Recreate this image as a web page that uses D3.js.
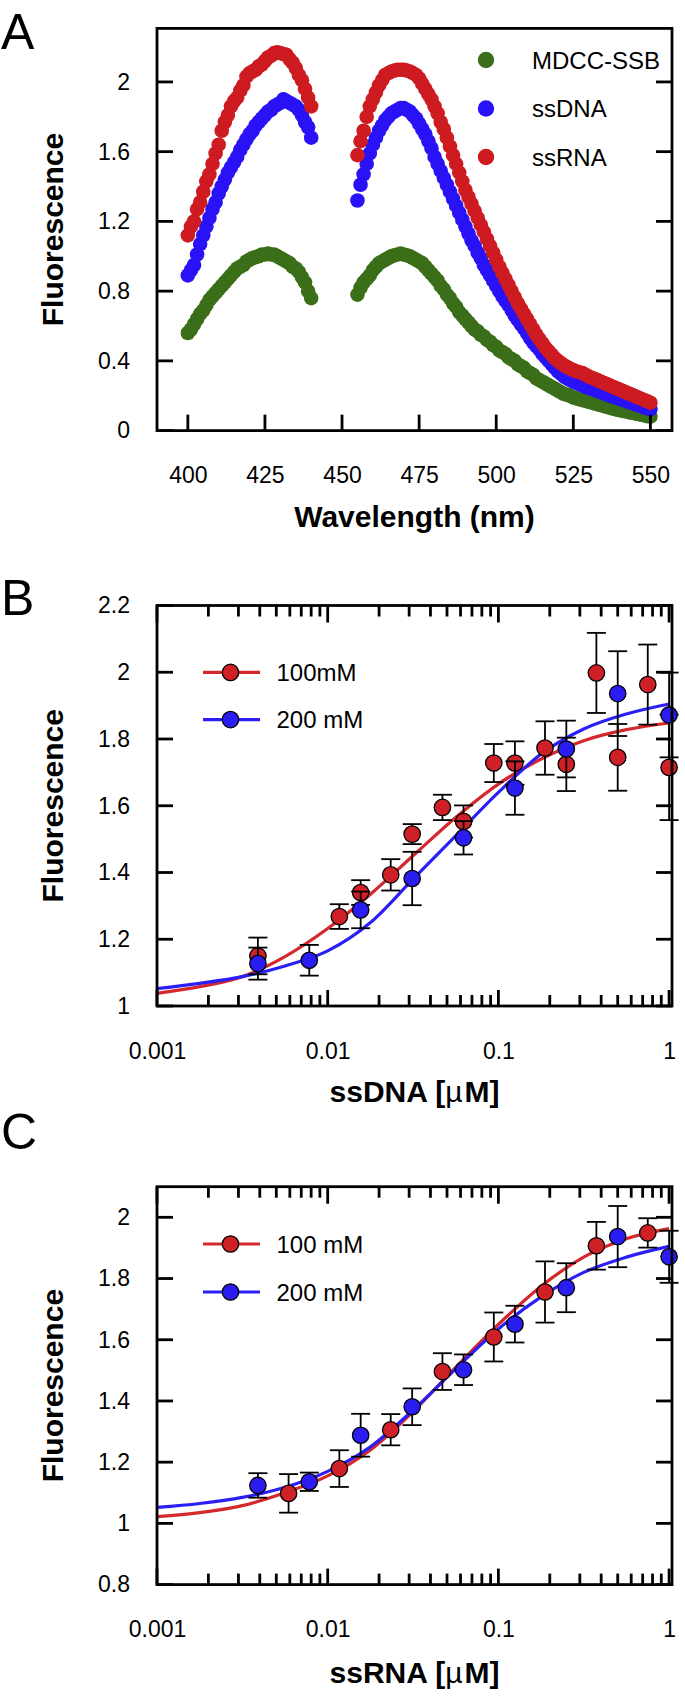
<!DOCTYPE html>
<html><head><meta charset="utf-8">
<script src="https://cdn.jsdelivr.net/npm/d3@7"></script>
<style>
body{margin:0;background:#fff}
svg{display:block}
text{font-family:"Liberation Sans",Arial,sans-serif;fill:#000}
</style>
</head><body>
<svg id="c" width="685" height="1697"></svg>
<script>
// ---------- Panel A data (emission spectra) ----------
const wavelengths = [
400,401,402,403,404,405,406,407,408,409,
410,411,412,413,414,415,416,417,418,419,
420,421,422,423,424,425,426,427,428,429,
430,431,432,433,434,435,436,437,438,439,
440,
455,456,457,458,459,
460,461,462,463,464,465,466,467,468,469,
470,471,472,473,474,475,476,477,478,479,
480,481,482,483,484,485,486,487,488,489,
490,491,492,493,494,495,496,497,498,499,
500,501,502,503,504,505,506,507,508,509,
510,511,512,513,514,515,516,517,518,519,
520,521,522,523,524,525,526,527,528,529,
530,531,532,533,534,535,536,537,538,539,
540,541,542,543,544,545,546,547,548,549,
550];
const mdccSSB = [
0.56,0.58,0.61,0.64,0.67,0.69,0.72,0.75,0.77,0.79,
0.81,0.83,0.85,0.87,0.89,0.91,0.93,0.94,0.95,0.97,
0.98,0.99,0.995,1.00,1.01,1.01,1.015,1.01,1.01,1.00,
0.99,0.98,0.97,0.96,0.94,0.93,0.91,0.88,0.85,0.80,
0.76,
0.78,0.82,0.85,0.87,0.89,
0.92,0.94,0.96,0.97,0.98,0.99,1.00,1.005,1.01,1.015,
1.01,1.005,1.00,0.99,0.98,0.97,0.96,0.94,0.92,0.90,
0.88,0.86,0.83,0.81,0.78,0.76,0.73,0.71,0.68,0.66,
0.64,0.62,0.60,0.58,0.57,0.55,0.54,0.52,0.51,0.49,
0.48,0.46,0.45,0.44,0.42,0.41,0.40,0.38,0.37,0.36,
0.34,0.33,0.32,0.30,0.29,0.28,0.27,0.26,0.25,0.24,
0.23,0.22,0.21,0.205,0.20,0.19,0.185,0.18,0.175,0.17,
0.165,0.16,0.155,0.15,0.145,0.14,0.135,0.13,0.125,0.12,
0.117,0.113,0.11,0.106,0.102,0.099,0.095,0.091,0.087,0.083,
0.08];
const ssDNA = [
0.89,0.92,0.95,1.01,1.07,1.12,1.17,1.22,1.27,1.31,
1.36,1.40,1.44,1.48,1.51,1.54,1.57,1.61,1.64,1.67,
1.70,1.72,1.75,1.77,1.79,1.81,1.83,1.84,1.86,1.87,
1.88,1.90,1.89,1.88,1.87,1.86,1.84,1.81,1.77,1.74,
1.68,
1.32,1.41,1.47,1.53,1.59,
1.64,1.68,1.72,1.75,1.78,1.80,1.82,1.83,1.84,1.85,
1.85,1.84,1.83,1.81,1.79,1.76,1.73,1.70,1.66,1.62,
1.57,1.53,1.49,1.45,1.41,1.37,1.33,1.29,1.25,1.21,
1.17,1.13,1.09,1.06,1.02,0.99,0.95,0.92,0.89,0.86,
0.83,0.80,0.77,0.745,0.72,0.69,0.66,0.635,0.61,0.585,
0.56,0.53,0.505,0.485,0.465,0.44,0.42,0.40,0.38,0.36,
0.34,0.325,0.31,0.30,0.29,0.28,0.275,0.265,0.26,0.25,
0.245,0.24,0.233,0.227,0.22,0.213,0.207,0.20,0.195,0.188,
0.182,0.176,0.17,0.164,0.158,0.152,0.146,0.14,0.134,0.128,
0.122];
const ssRNA = [
1.12,1.17,1.20,1.27,1.31,1.37,1.43,1.47,1.53,1.59,
1.64,1.72,1.77,1.81,1.86,1.89,1.91,1.95,1.98,2.03,
2.05,2.06,2.07,2.09,2.10,2.12,2.14,2.15,2.165,2.17,
2.165,2.16,2.155,2.13,2.11,2.08,2.04,2.01,1.96,1.91,
1.86,
1.58,1.66,1.72,1.80,1.86,
1.90,1.94,1.98,2.01,2.04,2.05,2.06,2.065,2.07,2.07,
2.07,2.065,2.06,2.05,2.04,2.02,1.99,1.96,1.93,1.90,
1.86,1.82,1.77,1.73,1.68,1.63,1.58,1.53,1.48,1.43,
1.38,1.34,1.30,1.26,1.22,1.18,1.14,1.10,1.06,1.02,
0.98,0.94,0.905,0.87,0.835,0.80,0.765,0.73,0.70,0.67,
0.64,0.61,0.58,0.55,0.525,0.50,0.475,0.455,0.435,0.415,
0.40,0.387,0.375,0.365,0.355,0.347,0.34,0.335,0.33,0.32,
0.31,0.303,0.296,0.288,0.28,0.273,0.265,0.258,0.25,0.243,
0.235,0.228,0.22,0.213,0.205,0.198,0.19,0.183,0.175,0.168,
0.16];
const legendA = ["MDCC-SSB","ssDNA","ssRNA"];
const xTicksA = [400,425,450,475,500,525,550];
const yTicksA = [0,0.4,0.8,1.2,1.6,2];

// ---------- Panel B data (ssDNA titration) ----------
const concB100 = [0.0039,0.0117,0.0156,0.0234,0.03125,0.047,0.0625,0.094,0.125,0.1875,0.25,0.375,0.5,0.75,1];
const fluB100  = [1.15,1.268,1.34,1.393,1.515,1.595,1.553,1.728,1.728,1.773,1.724,1.998,1.745,1.963,1.715];
const errB100  = [0.055,0.037,0.037,0.047,0.03,0.038,0.048,0.057,0.065,0.08,0.08,0.12,0.1,0.12,0.158];
const concB200 = [0.0039,0.0078,0.0156,0.03125,0.0625,0.125,0.25,0.5,1];
const fluB200  = [1.127,1.137,1.288,1.382,1.504,1.653,1.77,1.936,1.872];
const errB200  = [0.048,0.046,0.055,0.08,0.05,0.08,0.085,0.127,0.127];
const fitConc  = [0.001,0.00178,0.00316,0.00562,0.01,0.0178,0.0316,0.0562,0.1,0.178,0.316,0.562,1.0];
const fitB100  = [1.038,1.058,1.088,1.148,1.232,1.335,1.45,1.565,1.665,1.74,1.795,1.828,1.848];
const fitB200  = [1.052,1.068,1.088,1.12,1.165,1.25,1.38,1.51,1.64,1.755,1.83,1.875,1.905];
const yTicksB  = [1,1.2,1.4,1.6,1.8,2,2.2];
const legendB  = ["100mM","200 mM"];

// ---------- Panel C data (ssRNA titration) ----------
const concC100 = [0.0059,0.0117,0.0234,0.047,0.094,0.1875,0.375,0.75];
const fluC100  = [1.098,1.179,1.306,1.496,1.609,1.756,1.907,1.949];
const errC100  = [0.063,0.06,0.051,0.06,0.08,0.1,0.078,0.048];
const concC200 = [0.0039,0.0078,0.0156,0.03125,0.0625,0.125,0.25,0.5,1];
const fluC200  = [1.124,1.136,1.288,1.381,1.502,1.651,1.77,1.937,1.871];
const errC200  = [0.04,0.03,0.07,0.06,0.05,0.06,0.08,0.1,0.085];
const fitC100  = [1.022,1.035,1.058,1.10,1.155,1.24,1.365,1.51,1.65,1.775,1.87,1.93,1.963];
const fitC200  = [1.052,1.065,1.085,1.118,1.17,1.25,1.37,1.505,1.635,1.74,1.82,1.87,1.905];
const yTicksC  = [0.8,1,1.2,1.4,1.6,1.8,2];
const legendC  = ["100 mM","200 mM"];

const xTicksLog = [0.001,0.01,0.1,1];
const xLabelsLog = ["0.001","0.01","0.1","1"];

// ---------- drawing ----------
const svg = d3.select("#c");
const L = 157, R = 672;
const cGreen = "#3b6e18", cBlue = "#2a12f6", cRed = "#cd1b21";
const mRed = "#cf2027", mBlue = "#2b1df2", lRed = "#d4282c", lBlue = "#2b1ff5";
const TW = 2.8; // tick / frame width

function labelAxis(g){
  g.select(".domain").remove();
  g.selectAll(".tick line").remove();
  g.selectAll(".tick text").attr("font-size",23).attr("fill","#000")
   .attr("font-family",'"Liberation Sans",Arial,sans-serif');
}

// inward tick marks positioned by the scales
function hTicks(vals, xs, y0, len){
  vals.forEach(d=>{
    svg.append("line").attr("x1",xs(d)).attr("x2",xs(d)).attr("y1",y0).attr("y2",y0+len)
      .attr("stroke","#000").attr("stroke-width",TW);
  });
}
function vTicks(vals, ys, x0, len){
  vals.forEach(d=>{
    svg.append("line").attr("y1",ys(d)).attr("y2",ys(d)).attr("x1",x0).attr("x2",x0+len)
      .attr("stroke","#000").attr("stroke-width",TW);
  });
}

function frame(xs, ys, o){
  const [yb, yt] = ys.range();
  const gb = svg.append("g").attr("transform",`translate(0,${yb})`)
    .call(d3.axisBottom(xs).tickValues(o.xTicks).tickFormat((d,i)=>o.xLabels[i])
      .tickSize(0).tickPadding(36.5));
  labelAxis(gb);
  const gl = svg.append("g").attr("transform",`translate(${L},0)`)
    .call(d3.axisLeft(ys).tickValues(o.yTicks).tickFormat(d=>String(d))
      .tickSize(0).tickPadding(27));
  labelAxis(gl);
  svg.append("rect").attr("x",L).attr("y",yt).attr("width",R-L).attr("height",yb-yt)
    .attr("fill","none").attr("stroke","#000").attr("stroke-width",TW);
  vTicks(o.yTicks, ys, L, 16);
  vTicks(o.yTicks, ys, R, -16);
  hTicks(o.xTicks, xs, yb, -16);
  if (o.log){
    const minors = [];
    [0.001,0.01,0.1].forEach(d=>{for(let k=2;k<=9;k++) minors.push(d*k);});
    hTicks(o.xTicks, xs, yt, 17);
    hTicks(minors, xs, yt, 11);
    hTicks(minors, xs, yb, -11);
  }
  svg.append("text").attr("transform",`translate(63,${(yb+yt)/2}) rotate(-90)`)
    .attr("text-anchor","middle").attr("font-size",30).attr("font-weight","bold")
    .text("Fluorescence");
  svg.append("text").attr("x",1).attr("y",o.letterY).attr("font-size",50).text(o.letter);
}

// ---- Panel A ----
const xA = d3.scaleLinear().domain([390,557]).range([L,R]);
const yA = d3.scaleLinear().domain([0,2.307]).range([430.6,28.4]);
[[mdccSSB,cGreen],[ssDNA,cBlue],[ssRNA,cRed]].forEach(([vals,col])=>{
  svg.append("g").selectAll("circle").data(vals).join("circle")
    .attr("cx",(d,i)=>xA(wavelengths[i])).attr("cy",d=>yA(d)).attr("r",7.3).attr("fill",col);
});
frame(xA,yA,{xTicks:xTicksA,xLabels:xTicksA.map(String),yTicks:yTicksA,letter:"A",letterY:49});
svg.append("text").attr("x",(L+R)/2).attr("y",526.5).attr("text-anchor","middle")
  .attr("font-size",30).attr("font-weight","bold").text("Wavelength (nm)");
[cGreen,cBlue,cRed].forEach((col,i)=>{
  const ly = [60,108.5,157][i];
  svg.append("circle").attr("cx",486).attr("cy",ly).attr("r",8.2).attr("fill",col);
  svg.append("text").attr("x",532).attr("y",ly+8.5).attr("font-size",24).text(legendA[i]);
});

// ---- Titration panels ----
function titration(yDom, yRange, o){
  const xs = d3.scaleLog().domain([0.001,1.04]).range([L,R]);
  const ys = d3.scaleLinear().domain(yDom).range(yRange);
  const line = d3.line().x((d,i)=>xs(fitConc[i])).y(d=>ys(d)).curve(d3.curveMonotoneX);
  svg.append("path").attr("d",line(o.fit1)).attr("fill","none").attr("stroke",lRed).attr("stroke-width",3.2);
  svg.append("path").attr("d",line(o.fit2)).attr("fill","none").attr("stroke",lBlue).attr("stroke-width",3.2);
  [[o.c1,o.f1,o.e1,mRed],[o.c2,o.f2,o.e2,mBlue]].forEach(([cs,fs,es,col])=>{
    const g = svg.append("g");
    cs.forEach((c,i)=>{
      const cx = xs(c), y1 = ys(fs[i]+es[i]), y2 = ys(fs[i]-es[i]);
      g.append("line").attr("x1",cx).attr("x2",cx).attr("y1",y1).attr("y2",y2)
        .attr("stroke","#000").attr("stroke-width",1.8);
      [y1,y2].forEach(yy=>g.append("line").attr("x1",cx-9.5).attr("x2",cx+9.5)
        .attr("y1",yy).attr("y2",yy).attr("stroke","#000").attr("stroke-width",1.8));
    });
    g.selectAll("circle").data(fs).join("circle")
      .attr("cx",(d,i)=>xs(cs[i])).attr("cy",d=>ys(d)).attr("r",8.2)
      .attr("fill",col).attr("stroke","#000").attr("stroke-width",1.3);
  });
  frame(xs,ys,{xTicks:xTicksLog,xLabels:xLabelsLog,yTicks:o.yTicks,log:true,letter:o.letter,letterY:o.letterY});
  const t = svg.append("text").attr("x",(L+R)/2).attr("y",o.titleY).attr("text-anchor","middle")
    .attr("font-size",30).attr("font-weight","bold");
  t.append("tspan").text(o.title+" [");
  t.append("tspan").attr("font-weight","normal").text("\u00b5");
  t.append("tspan").attr("dx",2).text("M]");
  [[lRed,mRed],[lBlue,mBlue]].forEach(([lc,mc],i)=>{
    const ly = o.legY[i];
    svg.append("line").attr("x1",203).attr("x2",260).attr("y1",ly).attr("y2",ly)
      .attr("stroke",lc).attr("stroke-width",3.2);
    svg.append("circle").attr("cx",230.5).attr("cy",ly).attr("r",8.2)
      .attr("fill",mc).attr("stroke","#000").attr("stroke-width",1.3);
    svg.append("text").attr("x",276.5).attr("y",ly+8.5).attr("font-size",24).text(o.legend[i]);
  });
}

titration([1,2.2],[1006,605.5],{
  c1:concB100,f1:fluB100,e1:errB100,c2:concB200,f2:fluB200,e2:errB200,
  fit1:fitB100,fit2:fitB200,yTicks:yTicksB,letter:"B",letterY:615,
  title:"ssDNA",titleY:1102,legY:[672.4,719.6],legend:legendB});
titration([0.8,2.1],[1584.6,1186.7],{
  c1:concC100,f1:fluC100,e1:errC100,c2:concC200,f2:fluC200,e2:errC200,
  fit1:fitC100,fit2:fitC200,yTicks:yTicksC,letter:"C",letterY:1149,
  title:"ssRNA",titleY:1683,legY:[1244,1292],legend:legendC});
</script>
</body></html>
